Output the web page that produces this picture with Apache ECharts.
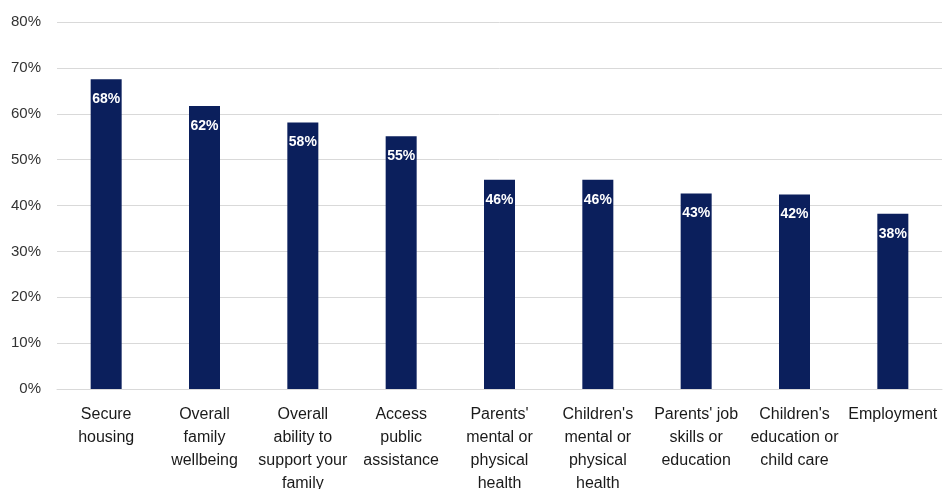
<!DOCTYPE html>
<html><head><meta charset="utf-8">
<script src="https://cdn.jsdelivr.net/npm/echarts@6/dist/echarts.min.js"></script>
<style>html,body{margin:0;padding:0;background:#fff}#c{width:945px;height:489px}</style>
</head><body><div id="c"></div>
<script>
const categories = ["Secure\nhousing","Overall\nfamily\nwellbeing","Overall\nability to\nsupport your\nfamily","Access\npublic\nassistance","Parents'\nmental or\nphysical\nhealth","Children's\nmental or\nphysical\nhealth","Parents' job\nskills or\neducation","Children's\neducation or\nchild care","Employment"];
const values = [67.5, 61.7, 58.1, 55.1, 45.6, 45.6, 42.6, 42.4, 38.2];
const labels = ["68%","62%","58%","55%","46%","46%","43%","42%","38%"];
const yTicks = [0,10,20,30,40,50,60,70,80];
const chart = echarts.init(document.getElementById('c'));
chart.setOption({
  animation:false,
  grid:{left:57,right:3,top:22,bottom:100,containLabel:false,outerBoundsMode:'none'},
  xAxis:{type:'category',data:categories,
    axisLine:{show:true,lineStyle:{color:'#d9d9d9'}},axisTick:{show:false},
    axisLabel:{interval:0,color:'#1a1a1a',fontFamily:'Liberation Sans, Arial, sans-serif',fontSize:16,lineHeight:23,margin:14}},
  yAxis:{type:'value',min:yTicks[0],max:yTicks[yTicks.length-1],interval:10,
    axisLine:{show:false},axisTick:{show:false},
    splitLine:{lineStyle:{color:'#d9d9d9'}},
    axisLabel:{formatter:v=>v+'%',color:'#333',fontFamily:'Liberation Sans, Arial, sans-serif',fontSize:15,margin:16}},
  series:[{type:'bar',data:values,barWidth:31,itemStyle:{color:'#0b1f5c'},
    label:{show:true,position:'insideTop',distance:13,color:'#fff',fontWeight:'bold',fontFamily:'Liberation Sans, Arial, sans-serif',fontSize:14,
      formatter:p=>labels[p.dataIndex]}}]
});
</script></body></html>
